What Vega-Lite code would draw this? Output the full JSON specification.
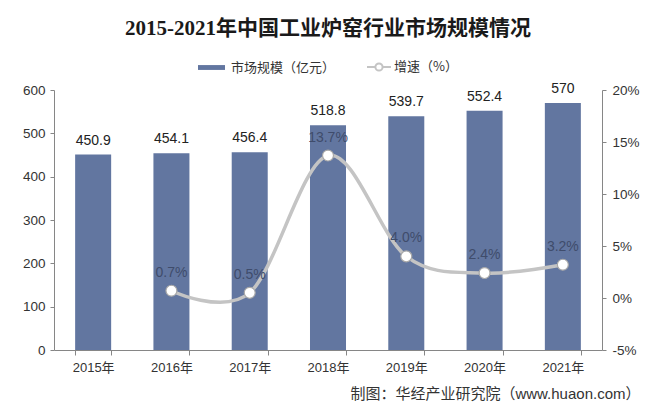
{
  "$schema": "https://vega.github.io/schema/vega-lite/v6.json",
  "width": 548,
  "height": 260,
  "autosize": "none",
  "padding": {"left": 54, "top": 90, "right": 58, "bottom": 66},
  "background": "white",
  "title": {
    "text": "2015-2021年中国工业炉窑行业市场规模情况",
    "font": "Liberation Serif, Noto Sans CJK SC",
    "fontSize": 21,
    "fontWeight": "bold",
    "color": "#1a1a1a",
    "anchor": "middle",
    "offset": 15
  },
  "data": {
    "values": [
      {"year": "2015年", "size": 450.9, "growth": null},
      {"year": "2016年", "size": 454.1, "growth": 0.007},
      {"year": "2017年", "size": 456.4, "growth": 0.005},
      {"year": "2018年", "size": 518.8, "growth": 0.137},
      {"year": "2019年", "size": 539.7, "growth": 0.04},
      {"year": "2020年", "size": 552.4, "growth": 0.024},
      {"year": "2021年", "size": 570, "growth": 0.032}
    ]
  },
  "encoding": {
    "x": {
      "field": "year",
      "type": "nominal",
      "sort": null,
      "scale": {"paddingInner": 0.54, "paddingOuter": 0.27},
      "axis": {
        "labelAngle": 0,
        "labelFont": "Liberation Sans, Noto Sans CJK SC",
        "labelFontSize": 13,
        "labelColor": "#333333",
        "labelPadding": 6,
        "domainColor": "#868686",
        "tickColor": "#868686",
        "tickSize": 5,
        "tickBand": "extent",
        "title": "制图：华经产业研究院（www.huaon.com）",
        "titleFont": "Liberation Sans, Noto Sans CJK SC",
        "titleFontSize": 15,
        "titleFontWeight": "normal",
        "titleColor": "#333333",
        "titleX": 586,
        "titleY": 43,
        "titleAlign": "right",
        "titleBaseline": "middle"
      }
    }
  },
  "layer": [
    {
      "encoding": {
        "y": {
          "field": "size",
          "type": "quantitative",
          "scale": {"domain": [0, 600], "nice": false},
          "axis": {
            "orient": "left",
            "values": [0, 100, 200, 300, 400, 500, 600],
            "title": null,
            "grid": false,
            "labelFont": "Liberation Sans",
            "labelFontSize": 13.5,
            "labelColor": "#333333",
            "labelPadding": 5,
            "domainColor": "#868686",
            "tickColor": "#868686",
            "tickSize": 4
          }
        }
      },
      "layer": [
        {
          "mark": {"type": "bar"},
          "encoding": {
            "fill": {
              "datum": "市场规模（亿元）",
              "scale": {"range": ["#6276a0"]},
              "legend": {
                "title": null,
                "orient": "top",
                "direction": "horizontal",
                "symbolType": "M-1,-0.18H1V0.18H-1Z",
                "symbolSize": 729,
                "symbolStrokeWidth": 0,
                "labelFont": "Noto Sans CJK SC",
                "labelFontSize": 13,
                "labelColor": "#333333",
                "labelOffset": 6,
                "offset": 15
              }
            }
          }
        },
        {
          "mark": {
            "type": "text",
            "baseline": "bottom",
            "dy": -7,
            "font": "Liberation Sans",
            "fontSize": 14,
            "color": "#222222"
          },
          "encoding": {"text": {"field": "size", "type": "quantitative"}}
        }
      ]
    },
    {
      "encoding": {
        "y": {
          "field": "growth",
          "type": "quantitative",
          "scale": {"domain": [-0.05, 0.2], "nice": false},
          "axis": {
            "orient": "right",
            "values": [-0.05, 0, 0.05, 0.1, 0.15, 0.2],
            "labelExpr": "replace(format(datum.value, '.0%'), '\u2212', '-')",
            "title": null,
            "grid": false,
            "labelFont": "Liberation Sans",
            "labelFontSize": 13.5,
            "labelColor": "#333333",
            "labelPadding": 6,
            "domainColor": "#868686",
            "tickColor": "#868686",
            "tickSize": 4
          }
        }
      },
      "layer": [
        {
          "mark": {"type": "line", "interpolate": "cardinal", "tension": 0, "strokeWidth": 3.5},
          "encoding": {
            "stroke": {
              "datum": "增速（%）",
              "scale": {"range": ["#c4c4c4"]},
              "legend": {
                "title": null,
                "orient": "top",
                "direction": "horizontal",
                "symbolType": "M-1,0H-0.3M0.3,0H1M-0.3,0A0.3,0.3 0 1,0 0.3,0A0.3,0.3 0 1,0 -0.3,0Z",
                "symbolSize": 576,
                "symbolStrokeWidth": 2,
                "symbolFillColor": "white",
                "labelFont": "Noto Sans CJK SC",
                "labelFontSize": 13,
                "labelColor": "#333333",
                "labelOffset": 2,
                "offset": 15
              }
            }
          }
        },
        {
          "mark": {
            "type": "point",
            "filled": true,
            "fill": "white",
            "stroke": "#a8a8a8",
            "strokeWidth": 1.2,
            "size": 120,
            "opacity": 1
          }
        },
        {
          "mark": {
            "type": "text",
            "baseline": "bottom",
            "dy": -11,
            "font": "Liberation Sans",
            "fontSize": 14,
            "color": "#3f4c6b"
          },
          "encoding": {"text": {"field": "growth", "type": "quantitative", "format": ".1%"}}
        }
      ]
    }
  ],
  "resolve": {"scale": {"y": "independent"}},
  "config": {
    "view": {"stroke": null},
    "legend": {"layout": {"top": {"anchor": "middle", "direction": "horizontal", "margin": 30}}}
  }
}
